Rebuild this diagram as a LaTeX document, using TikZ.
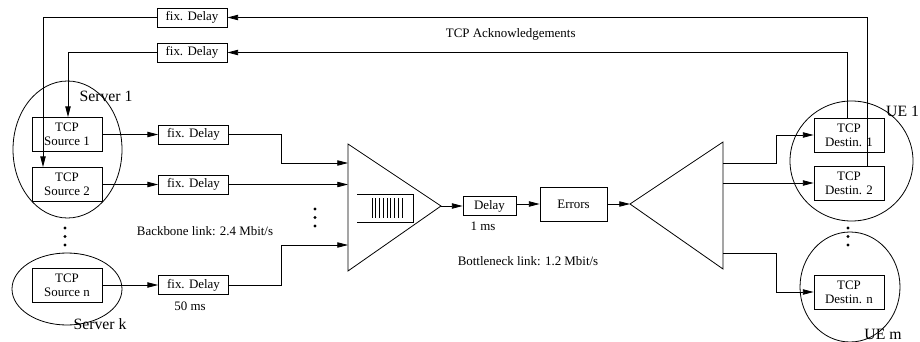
\documentclass[tikz,border=0pt]{standalone}
\usepackage{fontspec}
\setmainfont{Liberation Serif}
\usetikzlibrary{arrows.meta,shapes.geometric}
\begin{document}
\begin{tikzpicture}[x=0.75pt,y=-0.75pt,
  line width=0.6pt,
  every node/.style={font=\fontsize{9.7}{10.5}\selectfont},
  arr/.style={-{Triangle[length=8pt,width=4pt]}},
  fixbox/.style={draw,rectangle,inner sep=0pt,minimum width=52.5pt,minimum height=14.25pt},
  tcpbox/.style={draw,rectangle,inner sep=0pt,minimum width=52.5pt,minimum height=25.5pt,align=center},
  grp/.style={draw,ellipse,inner sep=0pt},
  biglabel/.style={font=\fontsize{11.8}{13}\selectfont},
  dotmark/.style={fill,circle,inner sep=0pt,minimum size=2.6pt}]
\useasboundingbox (0,0) rectangle (920,342);

% server ellipses
\node[grp,minimum width=81.75pt,minimum height=102.75pt] (srv1) at (67.5,149.5) {};
\node[grp,minimum width=82.5pt,minimum height=54pt] (srvk) at (67,289) {};
\node[grp,minimum width=92.25pt,minimum height=90pt] (ue1) at (851.5,161) {};
\node[grp,minimum width=75pt,minimum height=82.5pt] (uem) at (850,287) {};

% sources
\node[tcpbox] (src1) at (67,134.5) {TCP\\Source 1};
\node[tcpbox] (src2) at (67,184.5) {TCP\\Source 2};
\node[tcpbox] (srcn) at (67,285) {TCP\\Source n};

% destinations
\node[tcpbox] (dst1) at (849,135) {TCP\\Destin. 1};
\node[tcpbox] (dst2) at (849,183) {TCP\\Destin. 2};
\node[tcpbox] (dstn) at (849,292) {TCP\\Destin. n};

% fixed delays
\node[fixbox] (fd1) at (192,17.5) {fix. Delay};
\node[fixbox] (fd2) at (192,52.5) {fix. Delay};
\node[fixbox] (fdA) at (193.5,134.5) {fix. Delay};
\node[fixbox] (fdB) at (193.5,184.5) {fix. Delay};
\node[fixbox] (fdC) at (193.5,285) {fix. Delay};

% bottleneck
\node[draw,rectangle,inner sep=0pt,minimum width=39.75pt,minimum height=14.25pt] (delay) at (489.5,206) {Delay};
\node[draw,rectangle,inner sep=0pt,minimum width=50.25pt,minimum height=25.5pt] (errors) at (573.5,204) {Errors};

% multiplexer triangle
\coordinate (mux) at (441,206);
\coordinate (muxT) at (348,144);
\coordinate (muxB) at (348,271);
\draw (muxT) -- (mux) -- (muxB) -- cycle;
\coordinate (inA) at (348,163);
\coordinate (inB) at (348,184.5);
\coordinate (inC) at (348,245);
% queue
\draw (357,194) -- (413,194) -- (413,222) -- (357,222);
\foreach \i in {0,...,8} \draw (372+3.75*\i,198) -- (372+3.75*\i,218);

% demultiplexer triangle
\coordinate (demux) at (630,204);
\coordinate (demT) at (723,142);
\coordinate (demB) at (723,269);
\draw (demT) -- (demux) -- (demB) -- cycle;
\coordinate (o1) at (723,163);
\coordinate (o2) at (723,183);
\coordinate (o3) at (723,253);

% connectors sources -> delays
\draw[arr] (src1.east) -- (fdA.west);
\draw[arr] (src2.east) -- (fdB.west);
\draw[arr] (srcn.east) -- (fdC.west);
\draw[arr] (fdA.east) -- ++(52.5,0) |- (inA);
\draw[arr] (fdB.east) -- (inB);
\draw[arr] (fdC.east) -- ++(52.5,0) |- (inC);

\draw[arr] (mux) -- (mux -| delay.west);
\draw[arr] (delay.east |- errors.west) -- (errors.west);
\draw[arr] (errors.east) -- (demux);

\draw[arr] (o1) -- ++(53,0) |- (dst1.west);
\draw[arr] (o2) -- (dst2.west);
\draw[arr] (o3) -- ++(53,0) |- (dstn.west);

% feedback
\draw[arr] ([xshift=-1.5pt]dst1.north) |- (fd2.east);
\draw[arr] ([xshift=13.5pt]dst2.north) |- (fd1.east);
\draw[arr] (fd2.west) -| ([xshift=0.75pt]src1.north);
\draw[arr] (fd1.west) -| ([xshift=-18pt]src2.north);

% dots
\foreach \y [count=\k] in {228,236.5,245} {
  \node[dotmark] (dl\k) at (65,\y) {};
  \node[dotmark] (dr\k) at (848,\y) {};
}
\foreach \y [count=\k] in {209,217.5,226} \node[dotmark] (dm\k) at (315,\y) {};

% labels
\node[biglabel] (lsrv1) at (106,96) {Server 1};
\node[biglabel] (lsrvk) at (100,324) {Server k};
\node[biglabel,anchor=east,inner xsep=0.5pt] (lue1) at (920,111) {UE 1};
\node[biglabel] (luem) at (883,334) {UE m};
\node (l50) at (190,306) {50 ms};
\node (lbb) at (205,231) {Backbone link: 2.4 Mbit/s};
\node (l1ms) at (483,226) {1 ms};
\node (lbn) at (528,261) {Bottleneck link: 1.2 Mbit/s};
\node[anchor=west] (lack) at (441,34) {TCP Acknowledgements};
\end{tikzpicture}
\end{document}
